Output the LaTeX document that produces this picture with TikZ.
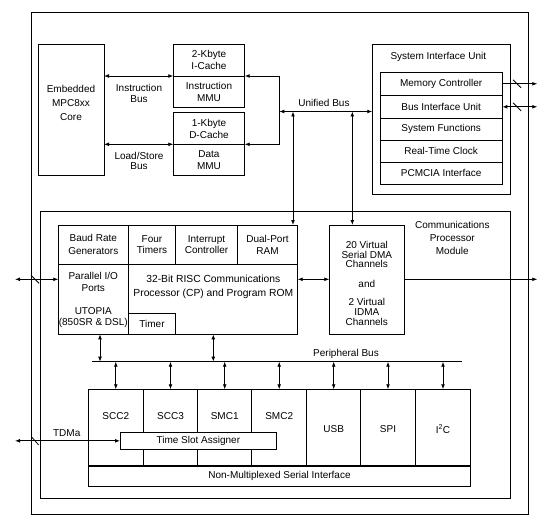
\documentclass[tikz,border=0pt]{standalone}
\usepackage{fontspec}
\setmainfont{Liberation Sans}
\usetikzlibrary{arrows.meta,calc}
\newcommand{\bx}[6][]{\node[box,#1,minimum width={(#4-#2)*1pt},minimum height={(#5-#3)*1pt}] (#6) at ({(#2+#4)/2},{(#3+#5)/2}) {};}
\begin{document}
\begin{tikzpicture}[x=1pt,y=-1pt,
 lw/.style={line width=0.8pt},
 box/.style={draw,lw,inner sep=0pt,outer sep=0pt},
 txt/.style={font=\fontsize{10}{12}\selectfont,align=center,inner sep=0pt},
 arr/.style={lw,-{Latex[length=5pt,width=3.8pt]}},
 darr/.style={lw,{Latex[length=5pt,width=3.8pt]}-{Latex[length=5pt,width=3.8pt]}},
 slashln/.style={lw}]
\useasboundingbox (0,0) rectangle (557,524);
% outer boxes
\bx{31.7}{12.3}{528.3}{514}{outer}
\bx{38.3}{44.3}{104}{175}{core}
\bx{173.3}{44.3}{244.7}{76}{icache}
\bx{173.3}{76}{244.7}{107.3}{immu}
\bx{173.3}{112.7}{244.7}{144.3}{dcache}
\bx{173.3}{144.3}{244.7}{175}{dmmu}
\node[txt,font=\fontsize{10}{14}\selectfont] (coretxt) at (71,103.3) {Embedded\\MPC8xx\\Core};
\node[txt] (ictxt) at (icache) {2-Kbyte\\I-Cache};
\node[txt] (imtxt) at (immu) {Instruction\\MMU};
\node[txt] (dctxt) at (dcache) {1-Kbyte\\D-Cache};
\node[txt] (dmtxt) at (dmmu) {Data\\MMU};
\node[txt,font=\fontsize{10}{11}\selectfont] (ibtxt) at (139,93.5) {Instruction\\Bus};
\node[txt,font=\fontsize{10}{10.5}\selectfont] (lstxt) at (139,161) {Load/Store\\Bus};
% SIU
\bx{372.3}{44.3}{510}{194}{siu}
\node[txt] (siutxt) at (438.3,57.3) {System Interface Unit};
\bx{380}{72.3}{502.3}{95.7}{mc}
\bx{380}{95.7}{502.3}{118.3}{biu}
\bx{380}{118.3}{502.3}{140.3}{sf}
\bx{380}{140.3}{502.3}{162.3}{rtc}
\bx{380}{162.3}{502.3}{184}{pcm}
\node[txt] at (mc) {Memory Controller};
\node[txt] at (biu) {Bus Interface Unit};
\node[txt] at (sf) {System Functions};
\node[txt] at (rtc) {Real-Time Clock};
\node[txt] at (pcm) {PCMCIA Interface};
% buses top
\draw[darr] (core.east |- immu.north west) -- (immu.north west);
\draw[darr] (core.east |- dmmu.north west) -- (dmmu.north west);
\coordinate (ub) at (279.3,111.5);
\draw[arr] (ub) |- (immu.north east);
\draw[arr] (ub) |- (dmmu.north east);
\draw[darr] (ub) -- (siu.west |- ub);
\node[txt] (ubtxt) at (324,103.3) {Unified Bus};
\coordinate (mcend) at (537.3,83.8);
\coordinate (biuend) at (537.3,106.8);
\draw[arr] (mc.east |- mcend) -- (mcend);
\draw[darr] (biu.east |- biuend) -- (biuend);
\draw[slashln] (513,79.8) -- (521,87.8);
\draw[slashln] (513,102.8) -- (521,110.8);
% CPM
\bx{40.7}{211.7}{510.7}{498.3}{cpm}
\node[txt,font=\fontsize{10}{12.8}\selectfont] (cpmtxt) at (452.3,237.8) {Communications\\Processor\\Module};
\bx{58.3}{225}{128.3}{264.3}{brg}
\bx{128.3}{225}{175.7}{264.3}{ft}
\bx{175.7}{225}{237.3}{264.3}{intc}
\bx{237.3}{225}{297.7}{264.3}{dpr}
\bx{58.3}{264.3}{128.3}{334.3}{pio}
\bx{128.3}{264.3}{297.7}{334.3}{risc}
\bx{128.3}{313.3}{175.7}{334.3}{timer}
\node[box,draw=none,minimum width=0pt,minimum height=0pt] (cp) at (178,279.6) {};
\node[txt,font=\fontsize{10}{12.5}\selectfont] at (brg) {Baud Rate\\Generators};
\node[txt,font=\fontsize{10}{11.5}\selectfont] at (ft) {Four\\Timers};
\node[txt,font=\fontsize{10}{11.5}\selectfont] at (intc) {Interrupt\\Controller};
\node[txt,font=\fontsize{10}{11.5}\selectfont] at (dpr) {Dual-Port\\RAM};
\node[txt] at (93.3,282.3) {Parallel I/O\\Ports};
\node[txt,font=\fontsize{10}{11}\selectfont] at (93.3,317.8) {UTOPIA\\(850SR \& DSL)};
\node[txt,font=\fontsize{10.3}{14}\selectfont] at (213.3,287.3) {32-Bit RISC Communications\\Processor (CP) and Program ROM};
\node[txt] at (timer) {Timer};
\bx{329.3}{225}{404.3}{334.3}{dma}
\node[txt,font=\fontsize{10}{9.6}\selectfont] at (366.8,254.5) {20 Virtual\\Serial DMA\\Channels};
\node[txt] at (366.8,283.5) {and};
\node[txt,font=\fontsize{10}{10.3}\selectfont] at (366.8,312) {2 Virtual\\IDMA\\Channels};
% vertical drops from unified bus
\coordinate (v1) at (293,111.5);
\coordinate (v2) at (352.3,111.5);
\draw[darr] (v1) -- (v1 |- dpr.north);
\draw[darr] (v2) -- (v2 |- dma.north);
% left/right CP arrows
\coordinate (pin) at (15,279.3);
\coordinate (dmaout) at (537.3,279.3);
\draw[darr] (pin) -- (pin -| pio.west);
\draw[slashln] (31,275.3) -- (39,283.3);
\draw[darr] (risc.east |- pin) -- (dma.west |- pin);
\draw[arr] (dma.east |- pin) -- (dmaout);
% peripheral bus
\coordinate (pb1) at (91.7,361.7);
\coordinate (pb2) at (461.7,361.7);
\draw[lw] (pb1) -- (pb2);
\node[txt] (pbtxt) at (346,354) {Peripheral Bus};
\coordinate (a1) at (100,361.7);
\coordinate (a2) at (213.3,361.7);
\draw[darr] (a1 |- pio.south) -- (a1);
\draw[darr] (a2 |- risc.south) -- (a2);
% peripherals
\bx{88.3}{389.3}{143.3}{466}{scc2}
\bx{143.3}{389.3}{197.7}{466}{scc3}
\bx{197.7}{389.3}{251.7}{466}{smc1}
\bx{251.7}{389.3}{306.7}{466}{smc2}
\bx{306.7}{389.3}{360.7}{466}{usb}
\bx{360.7}{389.3}{415.3}{466}{spi}
\bx{415.3}{389.3}{470.7}{466}{iic}
\bx{88.3}{466}{470.7}{486}{nmsi}
\draw[line width=2.4pt] (nmsi.north west) -- (nmsi.north east);
\node[txt] at (scc2.center |- 0,416.5) {SCC2};
\node[txt] at (scc3.center |- 0,416.5) {SCC3};
\node[txt] at (smc1.center |- 0,416.5) {SMC1};
\node[txt] at (smc2.center |- 0,416.5) {SMC2};
\node[txt] at (usb.center |- 0,429) {USB};
\node[txt] at (spi.center |- 0,429) {SPI};
\node[txt] at (iic.center |- 0,429) {I\textsuperscript{2}C};
\node[txt] at (nmsi) {Non-Multiplexed Serial Interface};
\bx[fill=white]{120}{432.3}{276.7}{449.3}{tsa}
\node[txt] at (tsa) {Time Slot Assigner};
\foreach \c in {scc2,scc3,smc1,smc2,usb,spi,iic}
  \draw[darr] (\c.north |- pb1) -- (\c.north);
% TDMa
\coordinate (tdm) at (15,440.8);
\draw[darr] (tdm) -- (tdm -| tsa.west);
\draw[slashln] (31.5,436.8) -- (38.5,444.8);
\node[txt] (tdmtxt) at (66.7,433.3) {TDMa};
\end{tikzpicture}
\end{document}
